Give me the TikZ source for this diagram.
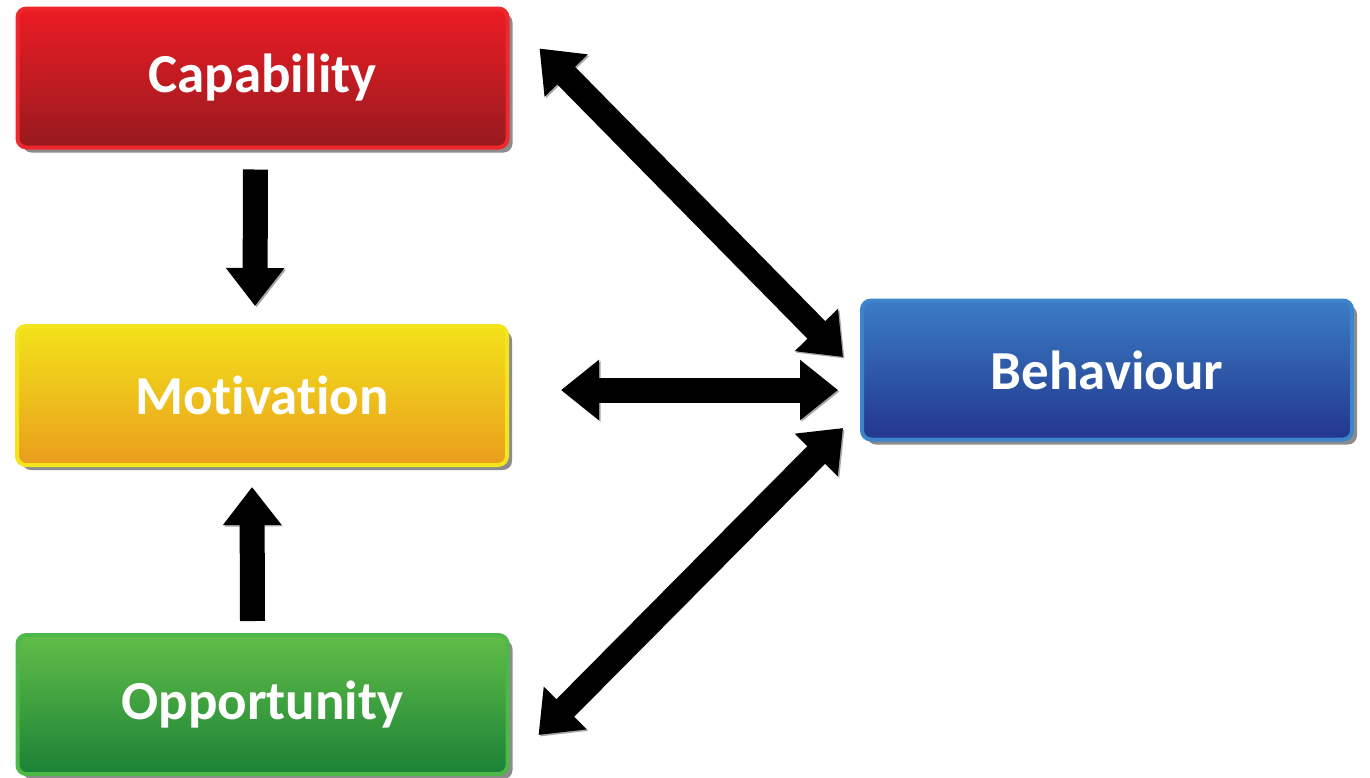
\documentclass[tikz,border=0pt]{standalone}
\usepackage{fontspec}
\setmainfont{Carlito}[Ligatures=NoCommon]
\usetikzlibrary{arrows.meta,calc,shadows}
\definecolor{redT}{HTML}{EC1C24}
\definecolor{redB}{HTML}{961A1F}
\definecolor{redE}{HTML}{F0282E}
\definecolor{yelT}{HTML}{F2E21A}
\definecolor{yelB}{HTML}{EA9E1E}
\definecolor{yelE}{HTML}{F4E41C}
\definecolor{grnT}{HTML}{62BD48}
\definecolor{grnB}{HTML}{1A8236}
\definecolor{grnE}{HTML}{4DB848}
\definecolor{bluT}{HTML}{3B7DC4}
\definecolor{bluB}{HTML}{22368C}
\definecolor{bluE}{HTML}{3C84CB}
\tikzset{
  box/.style={rectangle, rounded corners=9pt, line width=4pt,
    minimum width=490pt, minimum height=139pt,
    text=white, font=\fontsize{55}{60}\selectfont\bfseries,
    drop shadow={shadow xshift=5pt, shadow yshift=-5pt, opacity=0.6, fill=black!75}},
  capbox/.style={box, draw=redE, top color=redT, bottom color=redB},
  motbox/.style={box, draw=yelE, top color=yelT, bottom color=yelB},
  oppbox/.style={box, draw=grnE, top color=grnT, bottom color=grnB},
  behbox/.style={box, draw=bluE, top color=bluT, bottom color=bluB},
  bigarrow/.style={draw=black, line width=25pt,
    preaction={draw=black!35, transform canvas={shift={(1.5pt,-1.5pt)}}}},
  onehead/.style={bigarrow, -{Triangle[length=38pt,width=56pt]}},
  twohead/.style={bigarrow, {Triangle[length=38pt,width=58pt]}-{Triangle[length=38pt,width=58pt]}}
}
\begin{document}
\begin{tikzpicture}[x=1pt,y=-1pt]
\useasboundingbox[fill=white] (0,0) rectangle (1370,777);
\node[capbox] (cap) at (262.5,78) {Capability};
\node[motbox] (mot) at (262,395.5) {Motivation};
\node[oppbox] (opp) at (262.5,704.5) {Opportunity};
\node[behbox] (beh) at (1107,370) {Behaviour};

\coordinate (d1) at ($(cap.north east)+(30,42)$);
\coordinate (d2) at ($(beh.west)+(-17,-13)$);
\coordinate (h1) at ($(mot.east)+(52,-5.5)$);
\coordinate (h2) at ($(beh.west)+(-22,20)$);
\coordinate (l1) at ($(opp.east)+(29,30.5)$);
\coordinate (l2) at ($(beh.west)+(-17,58)$);

\draw[onehead] ([xshift=-7pt]cap.south) ++(0,20) -- ($([xshift=-7pt]mot.north)+(0,-18)$);
\draw[onehead] ([xshift=-10pt]opp.north) ++(0,-12) -- ($([xshift=-10pt]mot.south)+(0,20)$);
\draw[twohead] (d1) -- (d2);
\draw[twohead] (h1) -- (h2);
\draw[twohead] (l1) -- (l2);
\end{tikzpicture}
\end{document}
